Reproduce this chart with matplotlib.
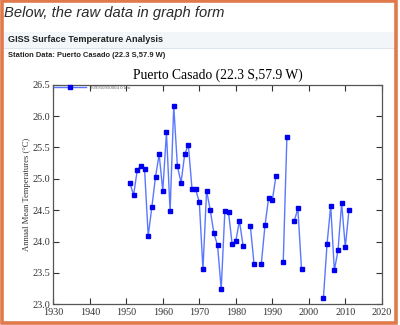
#   Imports    #
import numpy as np
import matplotlib
matplotlib.use("Agg")
import matplotlib.pyplot as plt
from matplotlib.patches import Rectangle
from matplotlib.lines import Line2D


##  Data    ##

years = list(range(1951, 2012))
temps = [24.93, 24.74, 25.14, 25.21, 25.16, 24.09, 24.55, 25.03, 25.39, 24.81,    #1951-1960
         25.74, 24.48, 26.16, 25.20, 24.94, 25.39, 25.54, 24.84, 24.83, 24.63,    #1961-1970
         23.56, 24.81, 24.50, 24.13, 23.94, 23.24, 24.48, 24.47, 23.96, 24.01,    #1971-1980
         24.33, 23.93, None,  24.24, 23.64, None,  23.65, 24.26, 24.70, 24.66,    #1981-1990
         25.04, None,  23.68, 25.67, None,  24.32, 24.53, 23.56, None,  None,     #1991-2000
         None,  None,  None,  23.10, 23.96, 24.57, 23.54, 23.86, 24.61, 23.91,    #2001-2010
         24.50]                                                                   #2011

x_ticks = list(range(1930, 2021, 10))
y_ticks = [23.0, 23.5, 24.0, 24.5, 25.0, 25.5, 26.0, 26.5]
legend_label = "309950950004 0 km"


##  Figure  ##

fig = plt.figure(figsize=(4, 3.25), dpi=100)
fig.patch.set_facecolor("white")

#   Page header #
fig.patches.append(Rectangle((0.005, 1 - 48 / 325), 0.985, 16 / 325, transform=fig.transFigure,
                             facecolor="#f3f6f8", edgecolor="none", zorder=0))
fig.lines.append(Line2D([0.005, 0.99], [1 - 48 / 325] * 2, transform=fig.transFigure,
                        color="#dde4ea", lw=0.8))
fig.text(0.01, 1 - 12.5 / 325, "Below, the raw data in graph form", fontsize=10.6,
         style="italic", family="Liberation Sans", color="#2a2a2a", va="center")
fig.text(0.02, 1 - 40 / 325, "GISS Surface Temperature Analysis", fontsize=6.6,
         weight="bold", family="Liberation Sans", color="#222222", va="center")
fig.text(0.02, 1 - 55.5 / 325, "Station Data: Puerto Casado (22.3 S,57.9 W)", fontsize=5.4,
         weight="bold", family="Liberation Sans", color="#222222", va="center")

#   Orange frame    #
fig.patches.append(Rectangle((0.004, 0.007), 0.987, 0.99, transform=fig.transFigure,
                             facecolor="none", edgecolor="#e07a4a", lw=2.6, zorder=10))

#   Chart   #
ax = fig.add_axes([53.3 / 400, 20.7 / 325, 328.5 / 400, 219.6 / 325])
y_axis = np.array([np.nan if v is None else v for v in temps], dtype=float)
ax.plot(years, y_axis, color="#5a78ff", lw=1.0, marker="s", markersize=2.4,
        markerfacecolor="#0000ee", markeredgecolor="#0000ee", label=legend_label)

ax.set_xlim(1930, 2020)
ax.set_ylim(23.0, 26.5)
ax.set_xticks(x_ticks)
ax.set_yticks(y_ticks)
ax.set_yticklabels(["%.1f" % t for t in y_ticks])
ax.tick_params(direction="in", length=4, width=0.8, top=True, right=True,
               labelsize=7.3, colors="#333333")
ax.tick_params(axis="x", pad=2.5)
ax.tick_params(axis="y", pad=2.5)
for lab in ax.get_xticklabels() + ax.get_yticklabels():
    lab.set_family("Liberation Serif")
for sp in ax.spines.values():
    sp.set_color("#555555")
    sp.set_linewidth(0.9)

ax.set_title("Puerto Casado (22.3 S,57.9 W)", family="Liberation Serif", fontsize=9.8, pad=4)
ax.set_ylabel("Annual Mean Temperatures (\u00b0C)", family="Liberation Serif", fontsize=6.2,
              labelpad=0.5, color="#333333")

ax.legend(loc="upper left", frameon=False, handlelength=6.5, borderaxespad=0.1,
          borderpad=0.1, labelcolor="#555555", prop={"family": "Liberation Serif", "size": 3.5})

fig.savefig("out.png", dpi=100)
